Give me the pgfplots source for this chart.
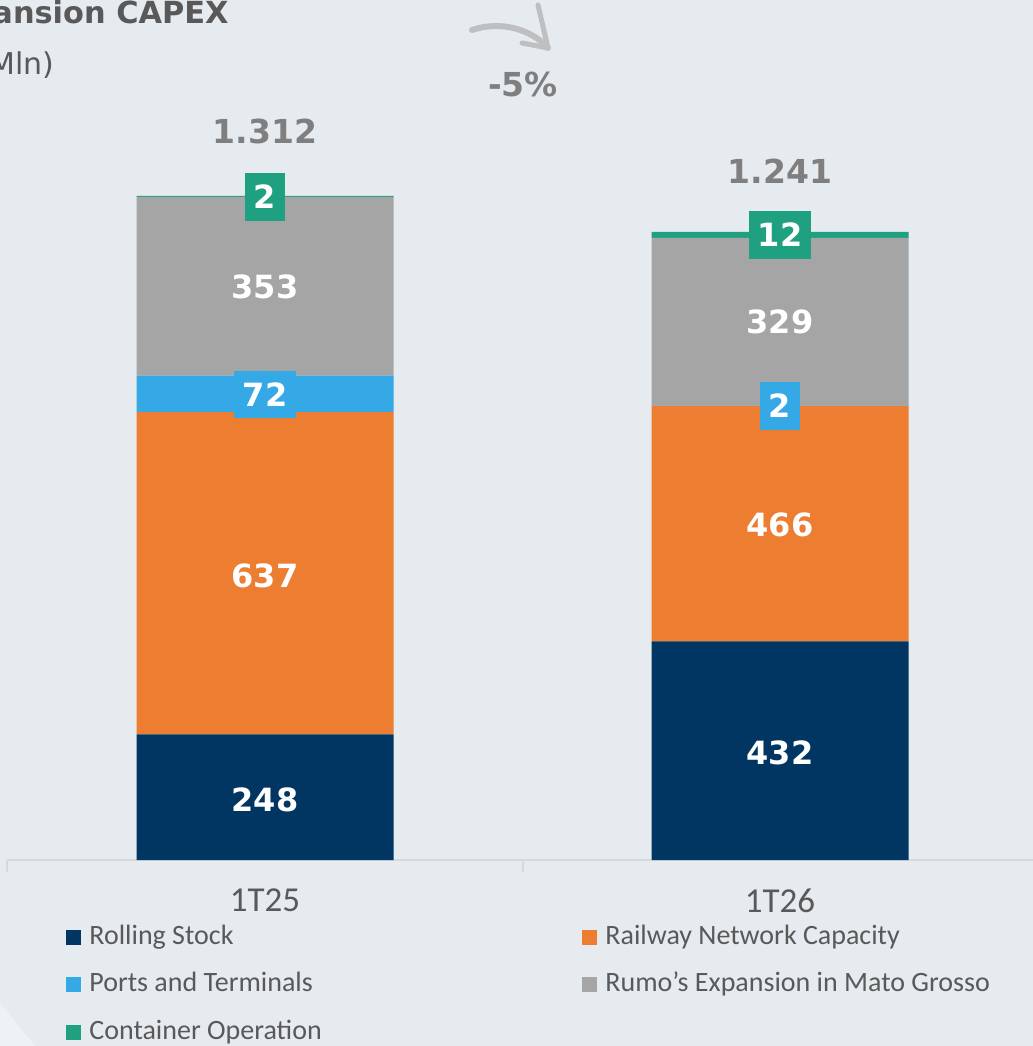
\documentclass[border=0pt]{standalone}
\usepackage{fontspec}
\setmainfont{Carlito}
\newfontfamily\verd{DejaVu Sans}
\usepackage{pgfplots}
\pgfplotsset{compat=1.18}
\definecolor{bgc}{HTML}{E6EBEF}
\definecolor{bgl}{HTML}{EEF2F5}
\definecolor{navy}{HTML}{003661}
\definecolor{orng}{HTML}{ED7D31}
\definecolor{blu}{HTML}{35A8E6}
\definecolor{gry}{HTML}{A5A5A5}
\definecolor{grn}{HTML}{1FA181}
\definecolor{txtc}{HTML}{595959}
\definecolor{totc}{HTML}{7F7F7F}
\definecolor{axc}{HTML}{D6DADD}
\definecolor{arrc}{HTML}{BDBFC1}
\newcommand{\colA}[1]{\makebox[246.5pt][l]{#1}}
\pgfplotsset{sqleg/.style={legend image code/.code={\fill[##1] (0pt,-3.75pt) rectangle (7.5pt,3.75pt);}}}
\pgfplotsset{vlab/.style={draw=none, mark=none, nodes near coords, point meta=explicit symbolic,
  every node near coord/.append style={anchor=center, fill=#1, text=white, font=\verd\bfseries\fontsize{16}{18}\selectfont,
  inner xsep=4.5pt, inner ysep=6pt, text height=11.6pt, text depth=0pt}}}
\begin{document}
\begin{tikzpicture}
\useasboundingbox (0,0) rectangle (516.5pt,523pt);
\clip (0,0) rectangle (516.5pt,523pt);
\fill[bgc] (0,0) rectangle (516.5pt,523pt);
\begin{scope}[x=0.5pt,y=0.5pt]
  \fill[bgl] (0,43) -- (35,0) -- (0,0) -- cycle;
  \node[anchor=base east, inner sep=0pt, text=txtc, font=\verd\bfseries\fontsize{15.2}{18}\selectfont] at (229,1022) {Expansion CAPEX};
  \node[anchor=base east, inner sep=0pt, text=txtc, font=\verd\fontsize{15}{18}\selectfont] at (55,971) {(R\$ Mln)};
  \draw[arrc, line width=3pt, line cap=round] (472,1016) .. controls (502,1026) and (532,1016) .. (548,998);
  \draw[arrc, line width=2.5pt, line cap=round, line join=round] (538,1041) -- (548,998) -- (522,1003);
  \node[text=totc, font=\verd\bfseries\fontsize{16.5}{18}\selectfont, inner sep=0pt] at (523,962) {-5\%};
\end{scope}
\begin{axis}[
  at={(3.75pt,93pt)}, anchor=south west, scale only axis,
  width=515pt, height=404.9pt,
  xmin=-0.5, xmax=1.5, ymin=0, ymax=1600,
  ybar stacked, bar width=128.5pt,
  axis y line=none, axis x line*=bottom,
  axis line style={draw=axc, line width=1pt},
  xtick={0,1}, xticklabels={1T25,1T26}, major tick length=0pt,
  xticklabel style={font=\fontsize{17.5}{20}\selectfont, text=txtc, inner sep=0pt, anchor=north, yshift=-14pt},
  extra x ticks={-0.5,0.5,1.5}, extra x tick labels={},
  extra x tick style={major tick length=6pt, tick align=outside, tick style={draw=axc, line width=1pt}},
  legend columns=2,
  legend style={at={(0.0568,-0.0778)}, anchor=north west, draw=none, fill=none, inner sep=0pt,
    font=\fontsize{14}{16}\selectfont, text=txtc, row sep=10pt,
    nodes={inner sep=0pt, text height=10.3pt, text depth=3.5pt},
    cells={anchor=west},
    /tikz/every odd column/.append style={column sep=4pt}},
]
\addplot[fill=navy, draw=none, sqleg] coordinates {(0,248) (1,432)};
\addlegendentry{\colA{Rolling Stock}}
\addplot[fill=orng, draw=none, sqleg] coordinates {(0,637) (1,466)};
\addlegendentry{Railway Network Capacity}
\addplot[fill=blu, draw=none, sqleg] coordinates {(0,72) (1,2)};
\addlegendentry{\colA{Ports and Terminals}}
\addplot[fill=gry, draw=none, sqleg] coordinates {(0,353) (1,329)};
\addlegendentry{Rumo’s Expansion in Mato Grosso}
\addplot[fill=grn, draw=none, sqleg] coordinates {(0,2) (1,12)};
\addlegendentry{\colA{Container Operation}}
\end{axis}
\begin{axis}[
  at={(3.75pt,93pt)}, anchor=south west, scale only axis,
  width=515pt, height=404.9pt,
  xmin=-0.5, xmax=1.5, ymin=0, ymax=1600,
  hide axis, clip=false,
]
\addplot[vlab=navy] coordinates {(0,119) [248] (1,211) [432]};
\addplot[vlab=orng] coordinates {(0,561) [637] (1,662) [466]};
\addplot[vlab=gry] coordinates {(0,1132) [353] (1,1063) [329]};
\addplot[vlab=blu] coordinates {(0,919) [72] (1,897) [2]};
\addplot[vlab=grn] coordinates {(0,1310) [2] (1,1235) [12]};
\addplot[vlab=bgc, every node near coord/.append style={text=totc, font=\verd\bfseries\fontsize{16.5}{18}\selectfont}] coordinates {(0,1438) [1.312] (1,1359) [1.241]};
\end{axis}
\end{tikzpicture}
\end{document}
